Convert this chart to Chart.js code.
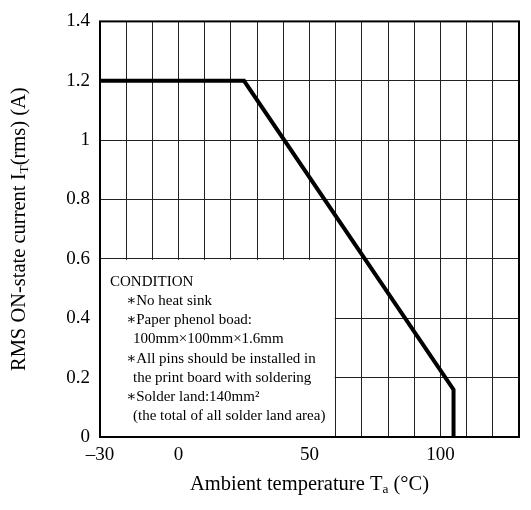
<!DOCTYPE html>
<html>
<head>
<meta charset="utf-8">
<script src="https://cdn.jsdelivr.net/npm/chart.js@4"></script>
<style>
  html, body { margin: 0; padding: 0; background: #fff; }
  #wrap { width: 531px; height: 510px; }
</style>
</head>
<body>
<div id="wrap"><canvas id="myChart" width="531" height="510"></canvas></div>
<script>
// derating curve
var temps = [-30, 25, 105, 105];
var currents = [1.2, 1.2, 0.16, 0];

var xShown = [-30, 0, 50, 100];
var xShownText = ['\u201330', '0', '50', '100'];
var yTicks = [0, 0.2, 0.4, 0.6, 0.8, 1, 1.2, 1.4];
var yTickText = ['0', '0.2', '0.4', '0.6', '0.8', '1', '1.2', '1.4'];

var conditionLines = [
    'CONDITION',
    '\u2217No heat sink',
    '\u2217Paper phenol boad:',
    ' 100mm\u00d7100mm\u00d71.6mm',
    '\u2217All pins should be installed in',
    ' the print board with soldering',
    '\u2217Solder land:140mm\u00b2',
    ' (the total of all solder land area)'
];
var conditionBox = { x0: -30, x1: 60, y0: 0, y1: 0.6 };

var yTitle = [['RMS ON-state current I', false], ['T', true], ['(rms) (A)', false]];
var xTitle = [['Ambient temperature T', false], ['a', true], [' (\u00b0C)', false]];

var serif = '"Liberation Serif", "DejaVu Serif", serif';

function drawParts(ctx, parts, size) {
    var total = 0, i;
    for (i = 0; i < parts.length; i++) {
        ctx.font = (parts[i][1] ? size * 0.65 : size) + 'px ' + serif;
        total += ctx.measureText(parts[i][0]).width;
    }
    var x = -total / 2;
    for (i = 0; i < parts.length; i++) {
        ctx.font = (parts[i][1] ? size * 0.65 : size) + 'px ' + serif;
        ctx.fillText(parts[i][0], x, parts[i][1] ? size * 0.22 : 0);
        x += ctx.measureText(parts[i][0]).width;
    }
}

var extras = {
    id: 'extras',
    beforeDatasetsDraw: function (chart) {
        var c = chart.ctx, xs = chart.scales.x, ys = chart.scales.y;
        var l = xs.getPixelForValue(conditionBox.x0), r = xs.getPixelForValue(conditionBox.x1);
        var t = ys.getPixelForValue(conditionBox.y1), b = ys.getPixelForValue(conditionBox.y0);
        c.save();
        c.fillStyle = '#fff';
        c.fillRect(l, t + 1, r - l - 1, b - t - 1);
        c.fillStyle = '#000';
        c.font = '15px ' + serif;
        c.textBaseline = 'middle';
        c.textAlign = 'left';
        for (var i = 0; i < conditionLines.length; i++) {
            var s = conditionLines[i];
            var ind = i === 0 ? 10 : (s.charAt(0) === ' ' ? 33 : 26);
            c.fillText(s.trim(), l + ind, t + 23 + i * 19.2);
        }
        c.restore();
    },
    afterDraw: function (chart) {
        var c = chart.ctx, a = chart.chartArea;
        c.save();
        c.strokeStyle = '#000';
        c.lineWidth = 2;
        c.strokeRect(a.left, a.top, a.right - a.left, a.bottom - a.top);
        c.fillStyle = '#000';
        c.textBaseline = 'middle';
        c.save();
        c.translate(20, (a.top + a.bottom) / 2);
        c.rotate(-Math.PI / 2);
        drawParts(c, yTitle, 20.5);
        c.restore();
        c.save();
        c.translate((a.left + a.right) / 2, 485);
        drawParts(c, xTitle, 20.5);
        c.restore();
        c.restore();
    }
};

var ctx = document.getElementById('myChart').getContext('2d');
var myChart = new Chart(ctx, {
    type: 'line',
    data: {
        datasets: [{
            data: temps.map(function (t, i) { return { x: t, y: currents[i] }; }),
            borderColor: '#000',
            borderWidth: 4,
            pointRadius: 0,
            tension: 0,
            fill: false
        }]
    },
    options: {
        responsive: false,
        animation: false,
        devicePixelRatio: 1,
        layout: { padding: { top: 10, right: 12, left: 0, bottom: 0 } },
        plugins: { legend: { display: false }, tooltip: { enabled: false } },
        scales: {
            x: {
                type: 'linear',
                min: -30,
                max: 130,
                afterFit: function (s) { s.height = 73; },
                afterBuildTicks: function (s) {
                    var arr = [];
                    for (var v = -30; v <= 130; v += 10) arr.push({ value: v });
                    s.ticks = arr;
                },
                ticks: {
                    autoSkip: false,
                    maxRotation: 0,
                    padding: 7,
                    color: '#000',
                    font: { family: serif, size: 19 },
                    callback: function (v) {
                        var k = xShown.indexOf(v);
                        return k < 0 ? '' : xShownText[k];
                    }
                },
                grid: { color: '#222', lineWidth: 1, drawTicks: false },
                border: { display: false }
            },
            y: {
                min: 0,
                max: 1.4,
                afterFit: function (s) { s.width = 100; },
                afterBuildTicks: function (s) {
                    s.ticks = yTicks.map(function (v) { return { value: v }; });
                },
                ticks: {
                    padding: 10,
                    color: '#000',
                    font: { family: serif, size: 19 },
                    callback: function (v) {
                        for (var i = 0; i < yTicks.length; i++) {
                            if (Math.abs(yTicks[i] - v) < 1e-6) return yTickText[i];
                        }
                        return '';
                    }
                },
                grid: { color: '#222', lineWidth: 1, drawTicks: false },
                border: { display: false }
            }
        }
    },
    plugins: [extras]
});
</script>
</body>
</html>
